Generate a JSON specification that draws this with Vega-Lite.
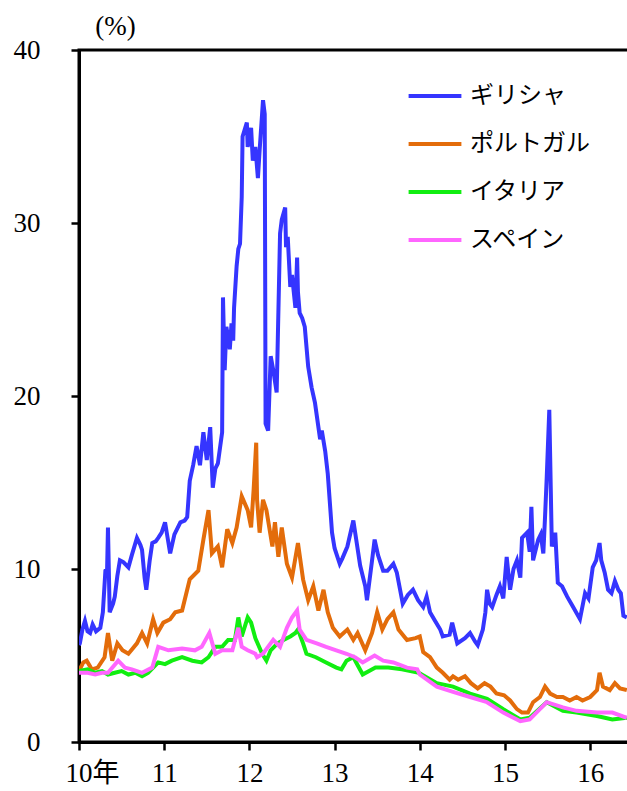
{
  "$schema": "https://vega.github.io/schema/vega-lite/v6.json",
  "autosize": "none",
  "width": 560,
  "height": 692,
  "padding": {"left": 79, "top": 50, "right": 0, "bottom": 49},
  "background": "white",
  "view": {"stroke": "black", "strokeWidth": 3},
  "data": {"values": [
    {"c":"ギリシャ","t":2010.00,"v":5.6},{"c":"ギリシャ","t":2010.01,"v":5.7},{"c":"ギリシャ","t":2010.04,"v":6.5},{"c":"ギリシャ","t":2010.07,"v":7.0},{"c":"ギリシャ","t":2010.10,"v":6.4},{"c":"ギリシャ","t":2010.13,"v":6.3},{"c":"ギリシャ","t":2010.16,"v":6.8},{"c":"ギリシャ","t":2010.20,"v":6.4},{"c":"ギリシャ","t":2010.25,"v":6.6},{"c":"ギリシャ","t":2010.28,"v":7.5},{"c":"ギリシャ","t":2010.31,"v":9.9},{"c":"ギリシャ","t":2010.33,"v":10.0},{"c":"ギリシャ","t":2010.34,"v":12.4},{"c":"ギリシャ","t":2010.36,"v":7.5},{"c":"ギリシャ","t":2010.40,"v":8.0},{"c":"ギリシャ","t":2010.42,"v":8.4},{"c":"ギリシャ","t":2010.45,"v":9.6},{"c":"ギリシャ","t":2010.48,"v":10.5},{"c":"ギリシャ","t":2010.52,"v":10.4},{"c":"ギリシャ","t":2010.58,"v":10.1},{"c":"ギリシャ","t":2010.62,"v":10.8},{"c":"ギリシャ","t":2010.68,"v":11.8},{"c":"ギリシャ","t":2010.72,"v":11.4},{"c":"ギリシャ","t":2010.74,"v":11.1},{"c":"ギリシャ","t":2010.77,"v":9.5},{"c":"ギリシャ","t":2010.79,"v":8.8},{"c":"ギリシャ","t":2010.83,"v":10.5},{"c":"ギリシャ","t":2010.86,"v":11.5},{"c":"ギリシャ","t":2010.90,"v":11.6},{"c":"ギリシャ","t":2010.93,"v":11.8},{"c":"ギリシャ","t":2010.97,"v":12.1},{"c":"ギリシャ","t":2011.01,"v":12.7},{"c":"ギリシャ","t":2011.05,"v":11.5},{"c":"ギリシャ","t":2011.07,"v":10.9},{"c":"ギリシャ","t":2011.12,"v":12.0},{"c":"ギリシャ","t":2011.19,"v":12.7},{"c":"ギリシャ","t":2011.24,"v":12.8},{"c":"ギリシャ","t":2011.27,"v":13.0},{"c":"ギリシャ","t":2011.30,"v":15.1},{"c":"ギリシャ","t":2011.34,"v":16.0},{"c":"ギリシャ","t":2011.38,"v":17.1},{"c":"ギリシャ","t":2011.42,"v":16.0},{"c":"ギリシャ","t":2011.46,"v":17.9},{"c":"ギリシャ","t":2011.50,"v":16.3},{"c":"ギリシャ","t":2011.54,"v":18.2},{"c":"ギリシャ","t":2011.57,"v":14.7},{"c":"ギリシャ","t":2011.60,"v":15.8},{"c":"ギリシャ","t":2011.63,"v":16.1},{"c":"ギリシャ","t":2011.68,"v":17.9},{"c":"ギリシャ","t":2011.69,"v":25.7},{"c":"ギリシャ","t":2011.71,"v":21.5},{"c":"ギリシャ","t":2011.73,"v":24.0},{"c":"ギリシャ","t":2011.77,"v":22.7},{"c":"ギリシャ","t":2011.79,"v":24.2},{"c":"ギリシャ","t":2011.81,"v":23.2},{"c":"ギリシャ","t":2011.82,"v":25.1},{"c":"ギリシャ","t":2011.85,"v":27.5},{"c":"ギリシャ","t":2011.87,"v":28.5},{"c":"ギリシャ","t":2011.89,"v":28.8},{"c":"ギリシャ","t":2011.91,"v":31.5},{"c":"ギリシャ","t":2011.92,"v":35.0},{"c":"ギリシャ","t":2011.97,"v":35.8},{"c":"ギリシャ","t":2011.98,"v":34.4},{"c":"ギリシャ","t":2012.02,"v":35.5},{"c":"ギリシャ","t":2012.04,"v":33.6},{"c":"ギリシャ","t":2012.07,"v":34.4},{"c":"ギリシャ","t":2012.10,"v":32.6},{"c":"ギリシャ","t":2012.12,"v":34.2},{"c":"ギリシャ","t":2012.16,"v":37.1},{"c":"ギリシャ","t":2012.18,"v":36.3},{"c":"ギリシャ","t":2012.19,"v":18.4},{"c":"ギリシャ","t":2012.22,"v":18.0},{"c":"ギリシャ","t":2012.25,"v":22.3},{"c":"ギリシャ","t":2012.28,"v":21.5},{"c":"ギリシャ","t":2012.32,"v":20.2},{"c":"ギリシャ","t":2012.36,"v":29.4},{"c":"ギリシャ","t":2012.38,"v":30.2},{"c":"ギリシャ","t":2012.42,"v":30.9},{"c":"ギリシャ","t":2012.43,"v":28.6},{"c":"ギリシャ","t":2012.45,"v":29.2},{"c":"ギリシャ","t":2012.48,"v":26.3},{"c":"ギリシャ","t":2012.50,"v":27.0},{"c":"ギリシャ","t":2012.54,"v":25.1},{"c":"ギリシャ","t":2012.56,"v":28.0},{"c":"ギリシャ","t":2012.57,"v":26.0},{"c":"ギリシャ","t":2012.59,"v":24.8},{"c":"ギリシャ","t":2012.62,"v":24.5},{"c":"ギリシャ","t":2012.65,"v":24.0},{"c":"ギリシャ","t":2012.69,"v":21.7},{"c":"ギリシャ","t":2012.73,"v":20.5},{"c":"ギリシャ","t":2012.77,"v":19.6},{"c":"ギリシャ","t":2012.81,"v":18.2},{"c":"ギリシャ","t":2012.83,"v":17.5},{"c":"ギリシャ","t":2012.85,"v":18.0},{"c":"ギリシャ","t":2012.89,"v":16.8},{"c":"ギリシャ","t":2012.92,"v":15.5},{"c":"ギリシャ","t":2012.97,"v":12.1},{"c":"ギリシャ","t":2013.00,"v":11.2},{"c":"ギリシャ","t":2013.06,"v":10.3},{"c":"ギリシャ","t":2013.09,"v":10.6},{"c":"ギリシャ","t":2013.15,"v":11.3},{"c":"ギリシャ","t":2013.22,"v":12.8},{"c":"ギリシャ","t":2013.26,"v":11.5},{"c":"ギリシャ","t":2013.30,"v":10.2},{"c":"ギリシャ","t":2013.36,"v":9.0},{"c":"ギリシャ","t":2013.38,"v":8.2},{"c":"ギリシャ","t":2013.44,"v":10.5},{"c":"ギリシャ","t":2013.47,"v":11.7},{"c":"ギリシャ","t":2013.51,"v":10.8},{"c":"ギリシャ","t":2013.57,"v":9.9},{"c":"ギリシャ","t":2013.62,"v":9.9},{"c":"ギリシャ","t":2013.69,"v":10.3},{"c":"ギリシャ","t":2013.73,"v":9.8},{"c":"ギリシャ","t":2013.80,"v":8.0},{"c":"ギリシャ","t":2013.86,"v":8.5},{"c":"ギリシャ","t":2013.92,"v":8.8},{"c":"ギリシャ","t":2013.98,"v":8.2},{"c":"ギリシャ","t":2014.04,"v":7.8},{"c":"ギリシャ","t":2014.08,"v":8.4},{"c":"ギリシャ","t":2014.12,"v":7.5},{"c":"ギリシャ","t":2014.18,"v":7.0},{"c":"ギリシャ","t":2014.24,"v":6.5},{"c":"ギリシャ","t":2014.27,"v":6.1},{"c":"ギリシャ","t":2014.35,"v":6.2},{"c":"ギリシャ","t":2014.38,"v":6.9},{"c":"ギリシャ","t":2014.44,"v":5.7},{"c":"ギリシャ","t":2014.53,"v":6.0},{"c":"ギリシャ","t":2014.59,"v":6.3},{"c":"ギリシャ","t":2014.65,"v":5.8},{"c":"ギリシャ","t":2014.68,"v":5.6},{"c":"ギリシャ","t":2014.74,"v":6.5},{"c":"ギリシャ","t":2014.77,"v":7.5},{"c":"ギリシャ","t":2014.79,"v":8.8},{"c":"ギリシャ","t":2014.82,"v":8.0},{"c":"ギリシャ","t":2014.85,"v":7.8},{"c":"ギリシャ","t":2014.90,"v":8.5},{"c":"ギリシャ","t":2014.94,"v":9.0},{"c":"ギリシャ","t":2014.98,"v":8.3},{"c":"ギリシャ","t":2015.02,"v":10.7},{"c":"ギリシャ","t":2015.06,"v":8.8},{"c":"ギリシャ","t":2015.10,"v":10.0},{"c":"ギリシャ","t":2015.14,"v":10.5},{"c":"ギリシャ","t":2015.18,"v":9.5},{"c":"ギリシャ","t":2015.20,"v":11.8},{"c":"ギリシャ","t":2015.26,"v":12.1},{"c":"ギリシャ","t":2015.29,"v":11.0},{"c":"ギリシャ","t":2015.31,"v":13.6},{"c":"ギリシャ","t":2015.33,"v":10.5},{"c":"ギリシャ","t":2015.39,"v":11.7},{"c":"ギリシャ","t":2015.42,"v":12.0},{"c":"ギリシャ","t":2015.45,"v":10.9},{"c":"ギリシャ","t":2015.47,"v":13.0},{"c":"ギリシャ","t":2015.49,"v":15.3},{"c":"ギリシャ","t":2015.52,"v":19.2},{"c":"ギリシャ","t":2015.55,"v":11.3},{"c":"ギリシャ","t":2015.59,"v":12.1},{"c":"ギリシャ","t":2015.62,"v":9.2},{"c":"ギリシャ","t":2015.67,"v":9.0},{"c":"ギリシャ","t":2015.73,"v":8.4},{"c":"ギリシャ","t":2015.80,"v":7.8},{"c":"ギリシャ","t":2015.88,"v":7.1},{"c":"ギリシャ","t":2015.94,"v":8.6},{"c":"ギリシャ","t":2015.98,"v":8.3},{"c":"ギリシャ","t":2016.03,"v":10.1},{"c":"ギリシャ","t":2016.07,"v":10.5},{"c":"ギリシャ","t":2016.11,"v":11.5},{"c":"ギリシャ","t":2016.13,"v":10.5},{"c":"ギリシャ","t":2016.17,"v":9.8},{"c":"ギリシャ","t":2016.21,"v":8.8},{"c":"ギリシャ","t":2016.25,"v":8.6},{"c":"ギリシャ","t":2016.29,"v":9.3},{"c":"ギリシャ","t":2016.33,"v":8.8},{"c":"ギリシャ","t":2016.36,"v":8.6},{"c":"ギリシャ","t":2016.39,"v":7.3},{"c":"ギリシャ","t":2016.43,"v":7.2},
    {"c":"ポルトガル","t":2010.00,"v":4.1},{"c":"ポルトガル","t":2010.05,"v":4.6},{"c":"ポルトガル","t":2010.09,"v":4.7},{"c":"ポルトガル","t":2010.15,"v":4.2},{"c":"ポルトガル","t":2010.22,"v":4.3},{"c":"ポルトガル","t":2010.30,"v":4.9},{"c":"ポルトガル","t":2010.34,"v":6.3},{"c":"ポルトガル","t":2010.39,"v":4.7},{"c":"ポルトガル","t":2010.45,"v":5.7},{"c":"ポルトガル","t":2010.51,"v":5.3},{"c":"ポルトガル","t":2010.58,"v":5.1},{"c":"ポルトガル","t":2010.68,"v":5.7},{"c":"ポルトガル","t":2010.74,"v":6.3},{"c":"ポルトガル","t":2010.80,"v":5.7},{"c":"ポルトガル","t":2010.87,"v":7.1},{"c":"ポルトガル","t":2010.92,"v":6.3},{"c":"ポルトガル","t":2010.99,"v":6.9},{"c":"ポルトガル","t":2011.07,"v":7.1},{"c":"ポルトガル","t":2011.13,"v":7.5},{"c":"ポルトガル","t":2011.21,"v":7.6},{"c":"ポルトガル","t":2011.30,"v":9.4},{"c":"ポルトガル","t":2011.40,"v":9.9},{"c":"ポルトガル","t":2011.46,"v":11.7},{"c":"ポルトガル","t":2011.52,"v":13.4},{"c":"ポルトガル","t":2011.56,"v":10.9},{"c":"ポルトガル","t":2011.63,"v":11.3},{"c":"ポルトガル","t":2011.68,"v":10.1},{"c":"ポルトガル","t":2011.74,"v":12.3},{"c":"ポルトガル","t":2011.80,"v":11.5},{"c":"ポルトガル","t":2011.85,"v":12.4},{"c":"ポルトガル","t":2011.91,"v":14.2},{"c":"ポルトガル","t":2011.98,"v":13.4},{"c":"ポルトガル","t":2012.02,"v":12.4},{"c":"ポルトガル","t":2012.05,"v":14.6},{"c":"ポルトガル","t":2012.08,"v":17.3},{"c":"ポルトガル","t":2012.09,"v":14.0},{"c":"ポルトガル","t":2012.12,"v":12.1},{"c":"ポルトガル","t":2012.16,"v":14.0},{"c":"ポルトガル","t":2012.20,"v":13.4},{"c":"ポルトガル","t":2012.27,"v":11.3},{"c":"ポルトガル","t":2012.30,"v":12.7},{"c":"ポルトガル","t":2012.34,"v":10.7},{"c":"ポルトガル","t":2012.38,"v":12.4},{"c":"ポルトガル","t":2012.44,"v":10.3},{"c":"ポルトガル","t":2012.50,"v":9.5},{"c":"ポルトガル","t":2012.57,"v":11.5},{"c":"ポルトガル","t":2012.63,"v":9.4},{"c":"ポルトガル","t":2012.69,"v":8.2},{"c":"ポルトガル","t":2012.75,"v":9.0},{"c":"ポルトガル","t":2012.81,"v":7.6},{"c":"ポルトガル","t":2012.87,"v":8.8},{"c":"ポルトガル","t":2012.92,"v":7.5},{"c":"ポルトガル","t":2012.98,"v":6.6},{"c":"ポルトガル","t":2013.06,"v":6.1},{"c":"ポルトガル","t":2013.15,"v":6.5},{"c":"ポルトガル","t":2013.22,"v":5.9},{"c":"ポルトガル","t":2013.27,"v":6.3},{"c":"ポルトガル","t":2013.36,"v":5.3},{"c":"ポルトガル","t":2013.44,"v":6.3},{"c":"ポルトガル","t":2013.50,"v":7.5},{"c":"ポルトガル","t":2013.56,"v":6.5},{"c":"ポルトガル","t":2013.62,"v":7.1},{"c":"ポルトガル","t":2013.69,"v":7.5},{"c":"ポルトガル","t":2013.75,"v":6.5},{"c":"ポルトガル","t":2013.85,"v":5.9},{"c":"ポルトガル","t":2013.95,"v":6.0},{"c":"ポルトガル","t":2014.00,"v":6.1},{"c":"ポルトガル","t":2014.04,"v":5.2},{"c":"ポルトガル","t":2014.12,"v":4.9},{"c":"ポルトガル","t":2014.20,"v":4.3},{"c":"ポルトガル","t":2014.27,"v":4.0},{"c":"ポルトガル","t":2014.35,"v":3.6},{"c":"ポルトガル","t":2014.39,"v":3.8},{"c":"ポルトガル","t":2014.45,"v":3.6},{"c":"ポルトガル","t":2014.53,"v":3.8},{"c":"ポルトガル","t":2014.60,"v":3.4},{"c":"ポルトガル","t":2014.68,"v":3.1},{"c":"ポルトガル","t":2014.76,"v":3.4},{"c":"ポルトガル","t":2014.83,"v":3.2},{"c":"ポルトガル","t":2014.90,"v":2.8},{"c":"ポルトガル","t":2014.99,"v":2.7},{"c":"ポルトガル","t":2015.06,"v":2.4},{"c":"ポルトガル","t":2015.14,"v":1.9},{"c":"ポルトガル","t":2015.20,"v":1.7},{"c":"ポルトガル","t":2015.27,"v":1.7},{"c":"ポルトガル","t":2015.33,"v":2.3},{"c":"ポルトガル","t":2015.41,"v":2.6},{"c":"ポルトガル","t":2015.47,"v":3.2},{"c":"ポルトガル","t":2015.53,"v":2.8},{"c":"ポルトガル","t":2015.61,"v":2.6},{"c":"ポルトガル","t":2015.68,"v":2.6},{"c":"ポルトガル","t":2015.76,"v":2.4},{"c":"ポルトガル","t":2015.84,"v":2.6},{"c":"ポルトガル","t":2015.91,"v":2.4},{"c":"ポルトガル","t":2016.00,"v":2.6},{"c":"ポルトガル","t":2016.08,"v":3.0},{"c":"ポルトガル","t":2016.11,"v":4.0},{"c":"ポルトガル","t":2016.15,"v":3.2},{"c":"ポルトガル","t":2016.23,"v":3.0},{"c":"ポルトガル","t":2016.29,"v":3.4},{"c":"ポルトガル","t":2016.35,"v":3.1},{"c":"ポルトガル","t":2016.43,"v":3.0},
    {"c":"イタリア","t":2010.00,"v":4.1},{"c":"イタリア","t":2010.10,"v":4.2},{"c":"イタリア","t":2010.19,"v":4.0},{"c":"イタリア","t":2010.27,"v":4.1},{"c":"イタリア","t":2010.34,"v":3.9},{"c":"イタリア","t":2010.42,"v":4.0},{"c":"イタリア","t":2010.50,"v":4.1},{"c":"イタリア","t":2010.58,"v":3.9},{"c":"イタリア","t":2010.66,"v":4.0},{"c":"イタリア","t":2010.74,"v":3.8},{"c":"イタリア","t":2010.81,"v":4.0},{"c":"イタリア","t":2010.93,"v":4.6},{"c":"イタリア","t":2011.01,"v":4.5},{"c":"イタリア","t":2011.09,"v":4.7},{"c":"イタリア","t":2011.21,"v":4.9},{"c":"イタリア","t":2011.33,"v":4.7},{"c":"イタリア","t":2011.44,"v":4.6},{"c":"イタリア","t":2011.52,"v":4.9},{"c":"イタリア","t":2011.60,"v":5.5},{"c":"イタリア","t":2011.68,"v":5.5},{"c":"イタリア","t":2011.75,"v":5.9},{"c":"イタリア","t":2011.83,"v":5.9},{"c":"イタリア","t":2011.87,"v":7.2},{"c":"イタリア","t":2011.91,"v":6.1},{"c":"イタリア","t":2011.98,"v":7.2},{"c":"イタリア","t":2012.02,"v":6.9},{"c":"イタリア","t":2012.07,"v":6.0},{"c":"イタリア","t":2012.15,"v":5.1},{"c":"イタリア","t":2012.20,"v":4.7},{"c":"イタリア","t":2012.25,"v":5.3},{"c":"イタリア","t":2012.33,"v":5.7},{"c":"イタリア","t":2012.40,"v":5.9},{"c":"イタリア","t":2012.48,"v":6.1},{"c":"イタリア","t":2012.54,"v":6.3},{"c":"イタリア","t":2012.57,"v":6.5},{"c":"イタリア","t":2012.63,"v":5.7},{"c":"イタリア","t":2012.67,"v":5.1},{"c":"イタリア","t":2012.78,"v":4.9},{"c":"イタリア","t":2012.90,"v":4.6},{"c":"イタリア","t":2013.02,"v":4.3},{"c":"イタリア","t":2013.08,"v":4.2},{"c":"イタリア","t":2013.14,"v":4.7},{"c":"イタリア","t":2013.22,"v":4.9},{"c":"イタリア","t":2013.33,"v":3.9},{"c":"イタリア","t":2013.48,"v":4.3},{"c":"イタリア","t":2013.63,"v":4.3},{"c":"イタリア","t":2013.79,"v":4.2},{"c":"イタリア","t":2013.99,"v":4.0},{"c":"イタリア","t":2014.20,"v":3.4},{"c":"イタリア","t":2014.39,"v":3.2},{"c":"イタリア","t":2014.59,"v":2.8},{"c":"イタリア","t":2014.79,"v":2.5},{"c":"イタリア","t":2014.98,"v":1.9},{"c":"イタリア","t":2015.18,"v":1.3},{"c":"イタリア","t":2015.29,"v":1.4},{"c":"イタリア","t":2015.49,"v":2.3},{"c":"イタリア","t":2015.68,"v":1.8},{"c":"イタリア","t":2015.84,"v":1.7},{"c":"イタリア","t":2016.08,"v":1.5},{"c":"イタリア","t":2016.26,"v":1.3},{"c":"イタリア","t":2016.43,"v":1.4},
    {"c":"スペイン","t":2010.00,"v":4.0},{"c":"スペイン","t":2010.10,"v":4.0},{"c":"スペイン","t":2010.19,"v":3.9},{"c":"スペイン","t":2010.27,"v":4.0},{"c":"スペイン","t":2010.34,"v":4.0},{"c":"スペイン","t":2010.46,"v":4.7},{"c":"スペイン","t":2010.54,"v":4.3},{"c":"スペイン","t":2010.62,"v":4.2},{"c":"スペイン","t":2010.74,"v":4.0},{"c":"スペイン","t":2010.86,"v":4.3},{"c":"スペイン","t":2010.93,"v":5.5},{"c":"スペイン","t":2011.05,"v":5.3},{"c":"スペイン","t":2011.21,"v":5.4},{"c":"スペイン","t":2011.36,"v":5.3},{"c":"スペイン","t":2011.44,"v":5.5},{"c":"スペイン","t":2011.53,"v":6.3},{"c":"スペイン","t":2011.60,"v":5.1},{"c":"スペイン","t":2011.68,"v":5.3},{"c":"スペイン","t":2011.80,"v":5.3},{"c":"スペイン","t":2011.87,"v":6.6},{"c":"スペイン","t":2011.91,"v":5.5},{"c":"スペイン","t":2011.98,"v":5.3},{"c":"スペイン","t":2012.07,"v":5.1},{"c":"スペイン","t":2012.09,"v":4.9},{"c":"スペイン","t":2012.16,"v":5.1},{"c":"スペイン","t":2012.28,"v":5.9},{"c":"スペイン","t":2012.36,"v":5.5},{"c":"スペイン","t":2012.44,"v":6.6},{"c":"スペイン","t":2012.50,"v":7.2},{"c":"スペイン","t":2012.56,"v":7.6},{"c":"スペイン","t":2012.59,"v":6.5},{"c":"スペイン","t":2012.67,"v":5.9},{"c":"スペイン","t":2012.79,"v":5.7},{"c":"スペイン","t":2012.90,"v":5.5},{"c":"スペイン","t":2013.02,"v":5.3},{"c":"スペイン","t":2013.14,"v":5.1},{"c":"スペイン","t":2013.24,"v":4.9},{"c":"スペイン","t":2013.33,"v":4.6},{"c":"スペイン","t":2013.47,"v":5.0},{"c":"スペイン","t":2013.57,"v":4.7},{"c":"スペイン","t":2013.69,"v":4.6},{"c":"スペイン","t":2013.85,"v":4.3},{"c":"スペイン","t":2013.97,"v":4.2},{"c":"スペイン","t":2014.00,"v":3.9},{"c":"スペイン","t":2014.20,"v":3.2},{"c":"スペイン","t":2014.39,"v":2.9},{"c":"スペイン","t":2014.59,"v":2.6},{"c":"スペイン","t":2014.79,"v":2.3},{"c":"スペイン","t":2014.98,"v":1.7},{"c":"スペイン","t":2015.18,"v":1.2},{"c":"スペイン","t":2015.29,"v":1.3},{"c":"スペイン","t":2015.49,"v":2.3},{"c":"スペイン","t":2015.68,"v":2.0},{"c":"スペイン","t":2015.84,"v":1.8},{"c":"スペイン","t":2016.08,"v":1.7},{"c":"スペイン","t":2016.26,"v":1.7},{"c":"スペイン","t":2016.43,"v":1.4}
  ]},
  "mark": {"type": "line", "strokeWidth": 4, "clip": true},
  "encoding": {
    "x": {
      "field": "t", "type": "quantitative",
      "scale": {"domain": [2010, 2016.573], "nice": false, "zero": false},
      "axis": {
        "title": null, "values": [2010, 2011, 2012, 2013, 2014, 2015, 2016],
        "labelExpr": "datum.value == 2010 ? '10年' : format(datum.value - 2000, 'd')",
        "labelOffset": {"condition": {"test": "datum.value == 2010", "value": 13}, "value": 0},
        "grid": false, "domainColor": "black", "domainWidth": 3,
        "tickColor": "black", "tickWidth": 2.5, "tickSize": 8,
        "labelFont": "'Liberation Serif', 'Times New Roman', 'DejaVu Serif', 'Noto Sans CJK JP', serif", "labelFontSize": 27, "labelColor": "black",
        "labelPadding": 10, "labelFlush": false, "labelOverlap": false
      }
    },
    "y": {
      "field": "v", "type": "quantitative",
      "scale": {"domain": [0, 40], "nice": false},
      "axis": {
        "title": "(%)", "titleAngle": 0, "titleX": 36, "titleY": -24, "titleAlign": "center", "titleBaseline": "middle",
        "titleFont": "'Liberation Serif', 'Times New Roman', 'DejaVu Serif', serif", "titleFontSize": 27, "titleFontWeight": "normal", "titleColor": "black",
        "values": [0, 10, 20, 30, 40], "grid": false,
        "domainColor": "black", "domainWidth": 3, "tickColor": "black", "tickWidth": 2.5, "tickSize": 8,
        "labelFont": "'Liberation Serif', 'Times New Roman', 'DejaVu Serif', serif", "labelFontSize": 27, "labelColor": "black", "labelPadding": 31,
        "labelFlush": false, "labelOverlap": false
      }
    },
    "color": {
      "field": "c", "type": "nominal",
      "scale": {"domain": ["ギリシャ", "ポルトガル", "イタリア", "スペイン"], "range": ["#3535FF", "#E36C0A", "#11EE11", "#FF66FF"]},
      "legend": {
        "title": null, "orient": "none", "legendX": 332, "legendY": 22,
        "symbolType": "M-1.2,0H1.2", "symbolSize": 1936, "symbolStrokeWidth": 4,
        "labelFont": "Noto Sans CJK JP", "labelFontSize": 24, "labelColor": "black",
        "labelOffset": 11, "rowPadding": 12
      }
    }
  }
}
